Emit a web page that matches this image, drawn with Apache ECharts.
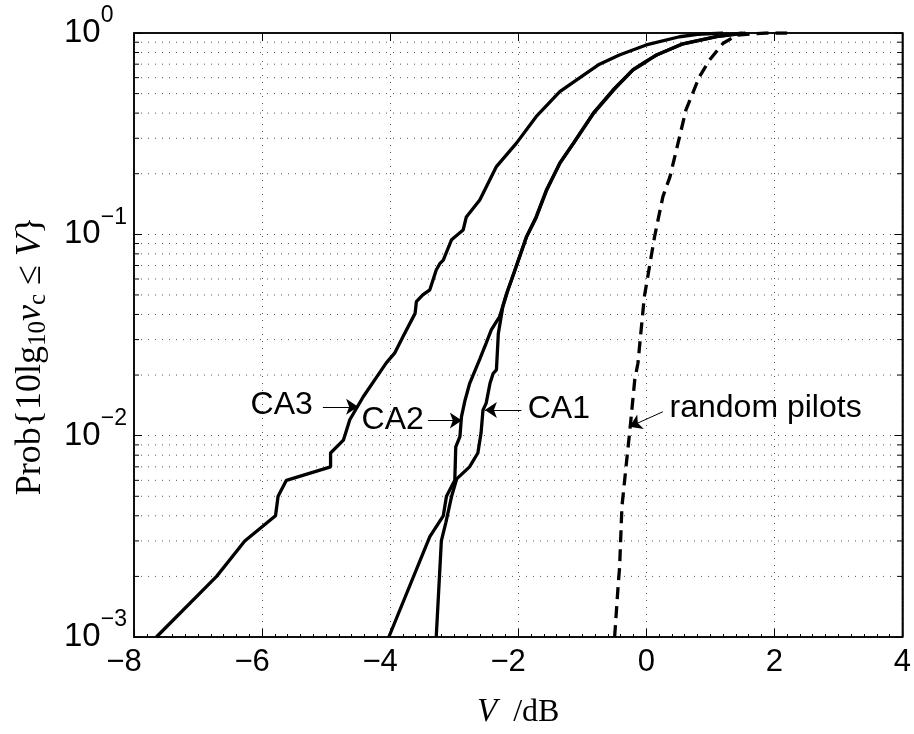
<!DOCTYPE html>
<html><head><meta charset="utf-8">
<script src="https://cdn.jsdelivr.net/npm/echarts@6/dist/echarts.min.js"></script>
<style>html,body{margin:0;padding:0;background:#fff}#c{width:914px;height:734px}</style>
</head><body><div id="c"></div>
<script>
// ---- data ----
const xTicks = [-8, -6, -4, -2, 0, 2, 4];
const yTicks = [0.001, 0.01, 0.1, 1];
const yDecades = [0.001, 0.01, 0.1];
const yMantissas = [2, 3, 4, 5, 6, 7, 8, 9];

const ca1 = [
  [-3.28, 0.001], [-3.20, 0.003], [-3.13, 0.0037], [-3.04, 0.005], [-2.96, 0.0061],
  [-2.76, 0.007], [-2.63, 0.0082], [-2.58, 0.0103], [-2.55, 0.0134], [-2.50, 0.0145],
  [-2.44, 0.0182], [-2.39, 0.0204], [-2.34, 0.0212], [-2.31, 0.0322], [-2.24, 0.0437],
  [-2.16, 0.0529], [-2.06, 0.065], [-1.87, 0.097], [-1.72, 0.121], [-1.55, 0.167],
  [-1.35, 0.226], [-1.13, 0.285], [-0.82, 0.40], [-0.50, 0.525], [-0.20, 0.66],
  [0.0, 0.725], [0.17, 0.78], [0.56, 0.88], [1.10, 0.96], [1.55, 1.0]
];
const ca2 = [
  [-4.02, 0.001], [-3.38, 0.00315], [-3.17, 0.0040], [-3.12, 0.005], [-2.99, 0.006],
  [-2.975, 0.0088], [-2.91, 0.0099], [-2.886, 0.0124], [-2.83, 0.015], [-2.757, 0.0182],
  [-2.60, 0.0240], [-2.50, 0.0288], [-2.42, 0.0335], [-2.29, 0.039], [-2.18, 0.051],
  [-2.10, 0.060], [-1.87, 0.0974], [-1.72, 0.122], [-1.56, 0.166], [-1.35, 0.225],
  [-1.14, 0.283], [-0.83, 0.399], [-0.52, 0.521], [-0.21, 0.655], [0.0, 0.72],
  [0.16, 0.778], [0.55, 0.88], [1.09, 0.96], [1.50, 1.0]
];
const ca3 = [
  [-7.65, 0.001], [-6.71, 0.002], [-6.27, 0.003], [-5.79, 0.004], [-5.75, 0.005],
  [-5.62, 0.006], [-4.93, 0.007], [-4.93, 0.0082], [-4.73, 0.0095], [-4.63, 0.012],
  [-4.42, 0.0156], [-4.19, 0.020], [-4.06, 0.023], [-3.93, 0.0257], [-3.80, 0.031],
  [-3.61, 0.0405], [-3.59, 0.0463], [-3.49, 0.050], [-3.38, 0.053], [-3.28, 0.0665],
  [-3.22, 0.0718], [-3.17, 0.0745], [-3.04, 0.094], [-2.99, 0.097], [-2.86, 0.105],
  [-2.81, 0.122], [-2.60, 0.148], [-2.34, 0.217], [-2.03, 0.283], [-1.72, 0.384],
  [-1.35, 0.511], [-0.94, 0.63], [-0.73, 0.70], [-0.42, 0.778], [0.0, 0.872],
  [0.52, 0.958], [0.80, 0.985], [1.20, 1.0]
];
const randomPilots = [
  [-0.494, 0.001], [-0.44, 0.00178], [-0.416, 0.00223], [-0.38, 0.00444], [-0.31, 0.0073],
  [-0.25, 0.0111], [-0.18, 0.0189], [-0.13, 0.0229], [-0.03, 0.049], [0.13, 0.0974],
  [0.26, 0.154], [0.37, 0.193], [0.52, 0.305], [0.62, 0.415], [0.83, 0.607],
  [0.99, 0.735], [1.20, 0.889], [1.42, 0.977], [1.87, 1.0], [2.2, 1.0]
];

// annotations: label anchor, arrow start, arrow end (data coords)
const annCA3 = { text: 'CA3', at: [-5.207, 0.0141], side: 'left', from: [-5.05, 0.0139], to: [-4.50, 0.0139] };
const annCA2 = { text: 'CA2', at: [-3.474, 0.0120], side: 'left', from: [-3.41, 0.0119], to: [-2.88, 0.0119] };
const annCA1 = { text: 'CA1', at: [-1.851, 0.0135], side: 'right', from: [-1.95, 0.0134], to: [-2.52, 0.0134] };
const annRP = { text: 'random pilots', at: [0.364, 0.0137], side: 'right', from: [0.26, 0.01315], to: [-0.26, 0.01107] };

// ---- build ----
const yMinor = [];
yDecades.forEach(d => yMantissas.forEach(m => yMinor.push(+(d * m).toPrecision(3))));

const SANS = 'Liberation Sans, Arial, Helvetica, sans-serif';
const SERIF = 'Liberation Serif, Times New Roman, serif';
const gridDot = { color: '#555', width: 1, type: [1, 6] };

function markers(a) {
  return {
    markPoint: {
      silent: true, animation: false,
      data: [{
        coord: a.at, symbol: 'circle', symbolSize: 0,
        label: { show: true, formatter: a.text, position: a.side, distance: 0,
                 fontSize: 32, color: '#000', fontFamily: SANS }
      }]
    },
    markLine: {
      silent: true, animation: false,
      symbol: ['none', 'arrow'], symbolSize: 12,
      itemStyle: { color: '#000' },
      lineStyle: { color: '#000', width: 1, type: 'solid' },
      label: { show: false },
      data: [[{ coord: a.from }, { coord: a.to }]]
    }
  };
}

function lineSeries(name, data, dashed, ann) {
  return Object.assign({
    name, type: 'line', data, showSymbol: false, symbol: 'none', z: 5,
    itemStyle: { color: '#000' },
    lineStyle: { color: '#000', width: 3.3, type: dashed ? [12, 7] : 'solid' },
    xAxisIndex: 0, yAxisIndex: 0
  }, ann ? markers(ann) : {});
}

const supMap = { '0': '0', '-1': '−1', '-2': '−2', '-3': '−3' };

const option = {
  animation: false,
  backgroundColor: '#fff',
  grid: { left: 134, top: 33, right: 11, bottom: 97, show: true, borderColor: '#000', borderWidth: 1.5, containLabel: false },
  xAxis: [{
    type: 'value', min: xTicks[0], max: xTicks[xTicks.length - 1], interval: 2,
    axisLine: { show: true, onZero: false, lineStyle: { color: '#000', width: 1.5 } },
    axisTick: { show: true, inside: true, length: 8, lineStyle: { color: '#000', width: 1 } },
    minorTick: { show: true, splitNumber: 10, length: 3, lineStyle: { color: '#000', width: 1 } },
    splitLine: { show: true, lineStyle: gridDot },
    axisLabel: {
      margin: 10, color: '#000', fontFamily: SANS, fontSize: 31,
      formatter: v => v < 0 ? '{n|−' + Math.abs(v) + '}' : '{p|' + v + '}',
      rich: { n: { fontSize: 31, fontFamily: SANS, color: '#000', padding: [0, 20, 0, 0] },
              p: { fontSize: 31, fontFamily: SANS, color: '#000' } }
    },
    name: '{i|V}{r|  /dB}', nameLocation: 'middle', nameGap: 59,
    nameTextStyle: { color: '#000', fontFamily: SERIF, fontSize: 32,
      rich: { i: { fontStyle: 'italic', fontFamily: SERIF, fontSize: 33, color: '#000' },
              r: { fontFamily: SERIF, fontSize: 32, color: '#000' } } }
  }, {
    type: 'value', position: 'top', min: xTicks[0], max: xTicks[xTicks.length - 1], interval: 2,
    axisLine: { show: true, onZero: false, lineStyle: { color: '#000', width: 1.5 } },
    axisTick: { show: true, inside: true, length: 8, lineStyle: { color: '#000', width: 1 } },
    axisLabel: { show: false }, splitLine: { show: false }
  }],
  yAxis: [{
    type: 'log', logBase: 10, min: yTicks[0], max: yTicks[yTicks.length - 1],
    axisLine: { show: true, onZero: false, lineStyle: { color: '#000', width: 1.5 } },
    axisTick: { show: true, inside: true, length: 8, lineStyle: { color: '#000', width: 1 } },
    splitLine: { show: true, lineStyle: gridDot },
    axisLabel: {
      align: 'left', margin: 70, fontSize: 33, fontFamily: SANS, color: '#000',
      formatter: v => '{b|10}{s|' + supMap[String(Math.round(Math.log10(v)))] + '}',
      rich: {
        b: { fontSize: 33, lineHeight: 33, fontFamily: SANS, color: '#000' },
        s: { fontSize: 23, lineHeight: 23, fontFamily: SANS, color: '#000', padding: [0, 0, 34, 0] }
      }
    },
    name: '{r|Prob\{10lg}{sub|10}{i|v}{sub|c}{r| ≤ }{i|V}{r|\u007d}',
    nameLocation: 'middle', nameRotate: 90, nameGap: 84,
    nameTextStyle: {
      color: '#000', fontFamily: SERIF, fontSize: 36, padding: [0, 42, 0, 0],
      rich: {
        r: { fontFamily: SERIF, fontSize: 36, lineHeight: 38, color: '#000' },
        i: { fontFamily: SERIF, fontStyle: 'italic', fontSize: 36, lineHeight: 38, color: '#000' },
        sub: { fontFamily: SERIF, fontSize: 25, lineHeight: 25, color: '#000', padding: [14, 0, 0, 0] }
      }
    }
  }, {
    type: 'log', logBase: 10, position: 'right', min: yTicks[0], max: yTicks[yTicks.length - 1],
    axisLine: { show: true, onZero: false, lineStyle: { color: '#000', width: 1.5 } },
    axisTick: { show: true, inside: true, length: 8, lineStyle: { color: '#000', width: 1 } },
    axisLabel: { show: false }, splitLine: { show: false }
  }],
  series: [
    {
      type: 'custom', xAxisIndex: 0, yAxisIndex: 0, silent: true, z: 1, clip: false,
      data: yMinor.map(v => [xTicks[0], v]),
      renderItem: (params, api) => {
        const v = api.value(1);
        const p1 = api.coord([xTicks[0], v]);
        const p2 = api.coord([xTicks[xTicks.length - 1], v]);
        return {
          type: 'group', children: [
            { type: 'line', shape: { x1: p1[0], y1: p1[1], x2: p2[0], y2: p2[1] }, style: { stroke: '#555', lineWidth: 1, lineDash: [1, 6] } },
            { type: 'line', shape: { x1: p1[0], y1: p1[1], x2: p1[0] + 5, y2: p1[1] }, style: { stroke: '#000', lineWidth: 1 } },
            { type: 'line', shape: { x1: p2[0] - 5, y1: p2[1], x2: p2[0], y2: p2[1] }, style: { stroke: '#000', lineWidth: 1 } }
          ]
        };
      }
    },
    lineSeries('CA1', ca1, false, annCA1),
    lineSeries('CA2', ca2, false, annCA2),
    lineSeries('CA3', ca3, false, annCA3),
    lineSeries('random pilots', randomPilots, true, annRP)
  ]
};

const chart = echarts.init(document.getElementById('c'), null, { renderer: 'canvas' });
chart.setOption(option);
</script>
</body></html>
